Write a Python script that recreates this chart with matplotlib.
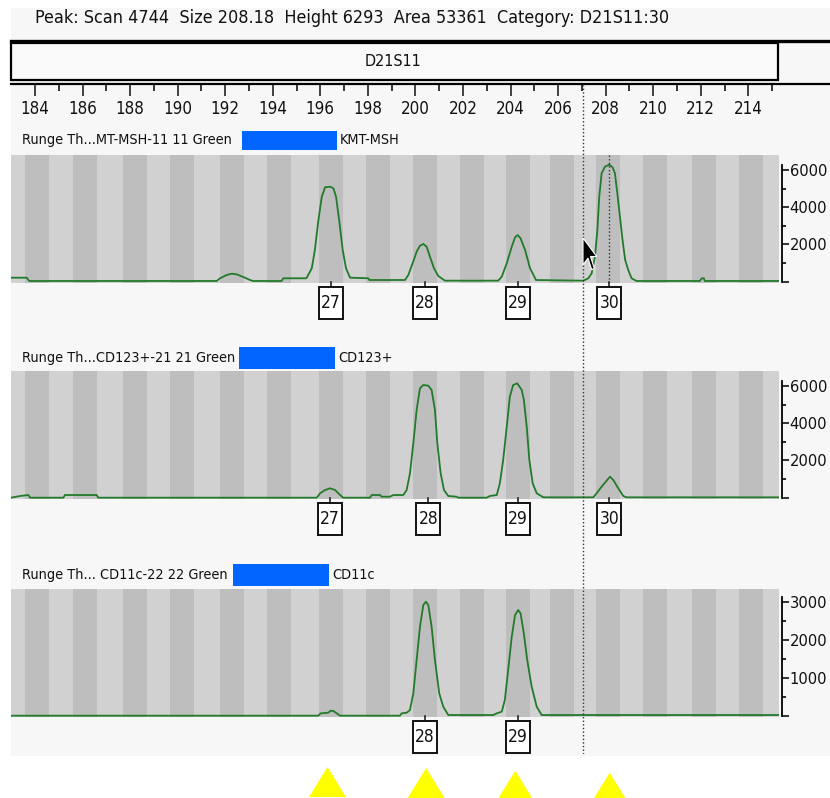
import matplotlib
matplotlib.use('Agg')
import matplotlib.pyplot as plt
from matplotlib import font_manager as fm
from matplotlib.patches import Rectangle, Polygon
from matplotlib.lines import Line2D
import matplotlib.transforms as mtransforms

W, H = 830, 798

# ---------------- data ----------------
header_text = "Peak: Scan 4744  Size 208.18  Height 6293  Area 53361  Category: D21S11:30"
marker_name = "D21S11"
size_ticks_major = list(range(184, 215, 2))
size_ticks_minor = list(range(185, 216, 2))
bin_centers = [184.10, 186.09, 188.20, 190.19, 192.29, 194.27, 196.43, 198.43,
               200.39, 202.36, 204.32, 206.15, 208.10, 210.06, 212.14, 214.10]
bin_width = 1.01
cursor_size = 207.06
selected_peak_size = 208.15

sample_names = ["Runge Th...MT-MSH-11 11 Green",
                "Runge Th...CD123+-21 21 Green",
                "Runge Th... CD11c-22 22 Green"]
sample_tags = ["KMT-MSH", "CD123+", "CD11c"]

p1_size = [182.99, 183.65, 183.76, 191.64, 191.78, 192.06, 192.27, 192.48, 192.83, 193.04,
           193.18, 194.37, 194.44, 195.40, 195.43, 195.64, 195.77, 195.91, 196.06, 196.20,
           196.41, 196.55, 196.66, 196.80, 196.94, 197.08, 197.25, 198.02, 198.06, 199.56,
           199.70, 199.88, 200.05, 200.19, 200.33, 200.47, 200.61, 200.78, 200.96, 201.24,
           203.48, 203.63, 203.84, 204.05, 204.19, 204.30, 204.42, 204.61, 204.82, 205.07,
           207.06, 207.27, 207.41, 207.55, 207.65, 207.73, 207.83, 207.97, 208.15, 208.29,
           208.39, 208.49, 208.60, 208.71, 208.82, 208.95, 209.09, 209.30, 211.96, 212.04,
           212.13, 212.17, 215.29]
p1_rfu = [215, 215, 38, 38, 183, 360, 430, 397, 215, 91,
          38, 38, 183, 183, 217, 720, 1704, 3226, 4570, 5075,
          5108, 5021, 4570, 3226, 1704, 720, 217, 183, 91, 91,
          360, 989, 1613, 1935, 2027, 1882, 1344, 720, 306, 55,
          55, 269, 989, 1882, 2387, 2511, 2333, 1704, 720, 91,
          54, 183, 452, 1344, 2780, 4570, 5828, 6183, 6293, 6151,
          5828, 4753, 3495, 2242, 1167, 629, 183, 38, 38, 183,
          183, 38, 38]

p2_size = [182.99, 183.37, 183.72, 183.79, 185.19, 185.26, 186.59, 186.66, 195.85, 195.99,
           196.20, 196.41, 196.62, 196.83, 196.96, 198.09, 198.16, 198.51, 198.58, 198.93,
           199.07, 199.49, 199.63, 199.77, 199.91, 200.05, 200.19, 200.33, 200.54, 200.68,
           200.82, 200.92, 201.06, 201.20, 201.38, 201.73, 201.80, 202.99, 203.13, 203.42,
           203.55, 203.69, 203.84, 203.97, 204.11, 204.28, 204.47, 204.56, 204.68, 204.79,
           204.93, 205.10, 205.38, 207.48, 207.62, 207.83, 208.18, 208.32, 208.53, 208.74,
           208.88, 215.29]
p2_rfu = [0, 91, 145, 0, 0, 145, 145, 0, 0, 237,
          414, 505, 414, 145, 0, 0, 145, 145, 54, 54,
          145, 145, 414, 1312, 2924, 4715, 5881, 6059, 6021, 5790,
          4715, 2924, 1312, 414, 91, 54, 0, 0, 91, 145,
          774, 2027, 3817, 5430, 6059, 6150, 5790, 5252, 3817, 2027,
          774, 237, 20, 20, 237, 591, 1129, 952, 505, 91,
          20, 20]

p3_size = [182.99, 195.91, 196.01, 196.33, 196.43, 196.55, 196.69, 196.83, 199.35, 199.42,
           199.63, 199.77, 199.91, 200.05, 200.19, 200.33, 200.44, 200.54, 200.68, 200.82,
           201.00, 201.17, 201.38, 203.27, 203.42, 203.63, 203.76, 203.90, 204.05, 204.19,
           204.32, 204.42, 204.56, 204.70, 204.89, 205.10, 205.31, 215.29]
p3_rfu = [0, 0, 62, 79, 132, 123, 62, 0, 0, 62,
          79, 151, 593, 1474, 2355, 2929, 3016, 2929, 2355, 1474,
          593, 238, 18, 18, 62, 106, 415, 1209, 2090, 2664,
          2797, 2709, 2170, 1474, 762, 238, 18, 18]

p1_peaks = [196.43, 200.40, 204.30, 208.15]
p1_labels = ["27", "28", "29", "30"]
p2_peaks = [196.41, 200.54, 204.30, 208.15]
p2_labels = ["27", "28", "29", "30"]
p3_peaks = [200.40, 204.30]
p3_labels = ["28", "29"]

p12_major = [0, 2000, 4000, 6000]
p12_minor = [1000, 3000, 5000]
p3_major = [0, 1000, 2000, 3000]
p3_minor = [500, 1500, 2500]

allele_triangles = [196.30, 200.45, 204.20, 208.17]

# ---------------- fonts ----------------
cond_fp = fm.FontProperties(family='DejaVu Sans', stretch='condensed')
cond_path = fm.findfont(cond_fp)
if 'Condensed' in cond_path:
    FONT = dict(family='DejaVu Sans', fontstretch='condensed')
    FP_KW = dict(family='DejaVu Sans', stretch='condensed')
else:
    FONT = dict(family='DejaVu Sans')
    FP_KW = dict(family='DejaVu Sans')

GREEN = '#227a2a'
LIGHT = '#d1d1d1'
DARK = '#bebebe'
BLUE = '#0066ff'
XL = (182.99, 215.29)


def frect(x0, y0, x1, y1):
    return [x0 / W, 1 - y1 / H, (x1 - x0) / W, (y1 - y0) / H]


def fx(x):
    return x / W


def fy(y):
    return 1 - y / H


fig = plt.figure(figsize=(W / 100, H / 100), dpi=100)
fig.patch.set_facecolor('white')

# window background
fig.patches.append(Rectangle((fx(11), fy(756)), (W - 11) / W, (756 - 8) / H,
                             transform=fig.transFigure, fc='#f7f7f7', ec='none', zorder=-10))

fig.text(fx(35), fy(18), header_text, ha='left', va='center', fontsize=12.9, color='#111', **FONT)
fig.add_artist(Line2D([fx(11), 1], [fy(40.5), fy(40.5)], lw=2.4, color='black'))
fig.patches.append(Rectangle((fx(11), fy(80)), (778 - 11) / W, (80 - 43) / H,
                             transform=fig.transFigure, fc='#f9f9f9', ec='black', lw=1.6, zorder=1))
fig.text(fx(393), fy(61), marker_name, ha='center', va='center', fontsize=11.5, color='#111', **FONT)
fig.add_artist(Line2D([fx(11), 1], [fy(84.3), fy(84.3)], lw=1.6, color='black'))

# size ruler
ax_t = fig.add_axes(frect(11, 84, 779, 85))
ax_t.set_xlim(XL)
ax_t.set_ylim(0, 1)
for s in ax_t.spines.values():
    s.set_visible(False)
ax_t.patch.set_visible(False)
ax_t.set_yticks([])
ax_t.set_xticks(size_ticks_major)
ax_t.set_xticks(size_ticks_minor, minor=True)
ax_t.set_xticklabels([str(v) for v in size_ticks_major])
ax_t.tick_params(axis='x', which='major', direction='out', length=8, width=1.1, pad=3,
                 labelsize=12, colors='#111')
ax_t.tick_params(axis='x', which='minor', direction='out', length=4.5, width=1.1)
for lab in ax_t.get_xticklabels():
    lab.set_fontproperties(fm.FontProperties(size=12.2, **FP_KW))

panels = [
    dict(top=155, bottom=283, zero=281.7, scale=53.76, x=p1_size, y=p1_rfu,
         peaks=p1_peaks, labels=p1_labels, major=p12_major, minor=p12_minor,
         label_y=140, blue=(242, 131, 337, 150)),
    dict(top=371, bottom=499, zero=497.7, scale=53.76, x=p2_size, y=p2_rfu,
         peaks=p2_peaks, labels=p2_labels, major=p12_major, minor=p12_minor,
         label_y=358, blue=(239, 347, 335, 369)),
    dict(top=589, bottom=717, zero=715.7, scale=26.46, x=p3_size, y=p3_rfu,
         peaks=p3_peaks, labels=p3_labels, major=p3_major, minor=p3_minor,
         label_y=575, blue=(233, 564, 329, 586)),
]

for i, p in enumerate(panels):
    ax = fig.add_axes(frect(11, p['top'], 779, p['bottom']))
    y0 = -(p['bottom'] - p['zero']) * p['scale']
    y1 = (p['zero'] - p['top']) * p['scale']
    ax.set_xlim(XL)
    ax.set_ylim(y0, y1)
    ax.set_facecolor(LIGHT)
    for c in bin_centers:
        ax.axvspan(c - bin_width / 2, c + bin_width / 2, color=DARK, lw=0, zorder=0.5)
    ax.plot(p['x'], p['y'], color=GREEN, lw=1.3, zorder=3, solid_joinstyle='round')
    for k in ['top', 'left', 'bottom']:
        ax.spines[k].set_visible(False)
    ax.spines['right'].set_position(('outward', 2))
    ax.spines['right'].set_bounds(0, p['major'][-1] * 1.05)
    ax.spines['right'].set_linewidth(1.3)
    ax.set_xticks([])
    ax.yaxis.tick_right()
    ax.set_yticks(p['major'])
    ax.set_yticks(p['minor'], minor=True)
    ax.set_yticklabels([''] + [str(v) for v in p['major'][1:]])
    ax.tick_params(axis='y', which='major', direction='out', length=5.2, width=1.2, pad=0.5,
                   labelsize=11, colors='#111')
    ax.tick_params(axis='y', which='minor', direction='out', length=2.6, width=1.2)
    for lab in ax.get_yticklabels():
        lab.set_fontproperties(fm.FontProperties(size=11.8, **FP_KW))

    # sample label row
    fig.text(fx(22), fy(p['label_y']), sample_names[i], ha='left', va='center',
             fontsize=10.4, color='#111', **FONT)
    bx0, by0, bx1, by1 = p['blue']
    fig.patches.append(Rectangle((fx(bx0), fy(by1)), (bx1 - bx0) / W, (by1 - by0) / H,
                                 transform=fig.transFigure, fc=BLUE, ec='none', zorder=2))
    fig.text(fx(bx1 + 3), fy(p['label_y']), sample_tags[i], ha='left', va='center',
             fontsize=10.4, color='#111', **FONT)

    # peak label boxes
    trans = mtransforms.blended_transform_factory(ax.transData, ax.transAxes)
    hpx = p['bottom'] - p['top']
    f_zero = (p['bottom'] - p['zero']) / hpx
    box_top = -4 / hpx
    box_h = 31.5 / hpx
    box_w = 24 / 23.78
    if i == 0:
        ax.plot([selected_peak_size] * 2, [1.0, f_zero], transform=trans, color='#333',
                lw=1, ls=(0, (1, 1.6)), clip_on=False, zorder=4)
    for pos, lab in zip(p['peaks'], p['labels']):
        ax.plot([pos, pos], [f_zero, box_top], transform=trans, color='#111', lw=1.1,
                clip_on=False, zorder=5)
        ax.add_patch(Rectangle((pos - box_w / 2, box_top - box_h), box_w, box_h,
                               transform=trans, fc='white', ec='#111', lw=1.4,
                               clip_on=False, zorder=5))
        ax.text(pos, box_top - box_h / 2, lab, transform=trans, ha='center', va='center',
                fontsize=12.5, color='#111', clip_on=False, zorder=6, **FONT)

# mouse pointer in first panel (screen decoration)
ptr = [(0, 0), (0, 16), (4, 12), (7, 19), (9, 18), (6, 11), (11, 11)]
px0, py0 = 583, 238
pts = [(fx(px0 + dx * 1.25), fy(py0 + dy * 1.68)) for dx, dy in ptr]
fig.patches.append(Polygon(pts, closed=True, transform=fig.transFigure, fc='black',
                           ec='white', lw=0.8, zorder=20))

# cursor dotted line across all panels
ax_o = fig.add_axes(frect(11, 85, 779, 754))
ax_o.set_xlim(XL)
ax_o.set_ylim(0, 1)
ax_o.axis('off')
ax_o.patch.set_visible(False)
ax_o.axvline(cursor_size, color='#333', lw=1, ls=(0, (1, 1.6)))

# allele triangles below
ax_tri = fig.add_axes(frect(11, 756, 779, 798))
ax_tri.set_xlim(XL)
ax_tri.set_ylim(42, 0)
ax_tri.axis('off')
tri_top = [11, 12, 14.7, 16.7]
half_w = 18.5 / 23.78
for pos, t in zip(allele_triangles, tri_top):
    ax_tri.add_patch(Polygon([(pos, t), (pos - half_w, t + 30), (pos + half_w, t + 30)],
                             closed=True, fc='#ffff00', ec='none'))

fig.savefig('out.png', dpi=100, facecolor='white')
